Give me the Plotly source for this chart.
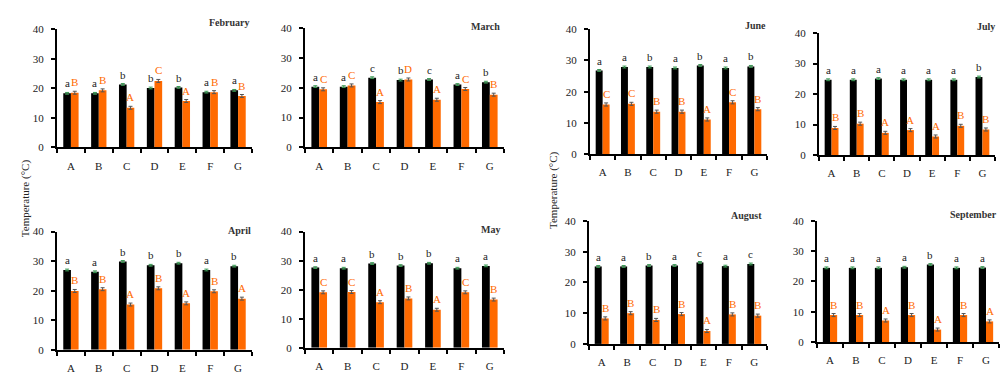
import plotly.graph_objects as go

categories = ["A", "B", "C", "D", "E", "F", "G"]
months = ["February", "March", "April", "May", "June", "July", "August", "September"]

feb_black = [18.3, 18.3, 21.3, 20.1, 20.3, 18.7, 19.3]
feb_orange = [18.5, 19.3, 13.4, 22.5, 15.7, 18.7, 17.4]
feb_black_letters = ["a", "a", "b", "b", "b", "a", "a"]
feb_orange_letters = ["B", "B", "A", "C", "A", "B", "B"]

mar_black = [20.4, 20.4, 23.4, 22.6, 22.8, 21.1, 21.9]
mar_orange = [19.5, 20.8, 15.2, 22.8, 16.0, 19.6, 17.7]
mar_black_letters = ["a", "a", "c", "b", "c", "a", "b"]
mar_orange_letters = ["C", "C", "A", "D", "A", "C", "B"]

apr_black = [27.0, 26.4, 29.9, 28.6, 29.3, 27.0, 28.3]
apr_orange = [19.9, 20.5, 15.3, 20.8, 15.7, 19.8, 17.3]
apr_black_letters = ["a", "a", "b", "b", "b", "a", "b"]
apr_orange_letters = ["B", "B", "A", "B", "A", "B", "A"]

may_black = [27.6, 27.4, 29.0, 28.3, 29.1, 27.4, 28.2]
may_orange = [19.1, 19.2, 15.7, 17.0, 13.1, 19.1, 16.6]
may_black_letters = ["a", "a", "b", "b", "b", "a", "a"]
may_orange_letters = ["C", "C", "A", "B", "A", "C", "B"]

jun_black = [26.8, 27.9, 27.9, 27.6, 28.4, 27.6, 28.1]
jun_orange = [15.9, 16.1, 13.6, 13.6, 11.1, 16.6, 14.4]
jun_black_letters = ["a", "a", "b", "a", "b", "a", "b"]
jun_orange_letters = ["C", "C", "B", "B", "A", "C", "B"]

jul_black = [24.7, 24.7, 25.1, 24.7, 24.7, 24.7, 25.6]
jul_orange = [8.9, 10.3, 7.3, 8.2, 6.1, 9.6, 8.4]
jul_black_letters = ["a", "a", "a", "a", "a", "a", "b"]
jul_orange_letters = ["B", "B", "A", "A", "A", "B", "B"]

aug_black = [25.2, 25.2, 25.5, 25.5, 26.5, 25.3, 26.0]
aug_orange = [8.3, 10.0, 7.8, 9.7, 4.2, 9.6, 9.2]
aug_black_letters = ["a", "a", "b", "a", "c", "a", "c"]
aug_orange_letters = ["B", "B", "B", "B", "A", "B", "B"]

sep_black = [24.5, 24.5, 24.5, 24.7, 25.6, 24.5, 24.6]
sep_orange = [8.9, 8.9, 7.1, 8.9, 4.1, 8.9, 6.8]
sep_black_letters = ["a", "a", "a", "a", "b", "a", "a"]
sep_orange_letters = ["B", "B", "A", "B", "A", "B", "A"]

black_err = [0.3, 0.3, 0.3, 0.3, 0.3, 0.3, 0.3]
orange_err = [0.5, 0.5, 0.5, 0.5, 0.5, 0.5, 0.5]

y_ticks = [0, 10, 20, 30, 40]
y_title = "Temperature (°C)"

panels = [
    (feb_black, feb_orange, feb_black_letters, feb_orange_letters),
    (mar_black, mar_orange, mar_black_letters, mar_orange_letters),
    (apr_black, apr_orange, apr_black_letters, apr_orange_letters),
    (may_black, may_orange, may_black_letters, may_orange_letters),
    (jun_black, jun_orange, jun_black_letters, jun_orange_letters),
    (jul_black, jul_orange, jul_black_letters, jul_orange_letters),
    (aug_black, aug_orange, aug_black_letters, aug_orange_letters),
    (sep_black, sep_orange, sep_black_letters, sep_orange_letters),
]

W, H = 1000, 378
# layout: panel boxes in pixels (left, right, top(y=40), bottom(y=0))
boxes = [
    (57, 252, 24, 146), (305, 504, 23, 146), (57, 252, 233, 355), (305, 504, 233, 353),
    (590, 767, 24, 153), (819, 995, 28, 154), (589, 767, 222, 349), (817, 999, 222, 347),
]
# month title positions in pixels (right edge, vertical centre)
title_pos = [
    (252, 17.5), (502, 20.7), (253, 232), (502, 231),
    (768, 20), (997, 20.7), (764, 216.7), (999, 215),
]

FONT = "Liberation Serif"
ORANGE = "#FF6A00"
BARGAP = 0.45
half = (1 - BARGAP) / 4

fig = go.Figure()
annotations = []

for i, (blk, org, bl, ol) in enumerate(panels):
    n = "" if i == 0 else str(i + 1)
    xa, ya = "x" + n, "y" + n
    left, right, top, bottom = boxes[i]
    fig.add_trace(go.Bar(
        x=categories, y=blk, xaxis=xa, yaxis=ya, marker_color="black",
        marker_line_width=0, showlegend=False,
        error_y=dict(type="data", array=black_err, color="#3b9a55", thickness=1, width=2),
    ))
    fig.add_trace(go.Bar(
        x=categories, y=org, xaxis=xa, yaxis=ya, marker_color=ORANGE,
        marker_line_width=0, showlegend=False,
        error_y=dict(type="data", array=orange_err, color="#555555", thickness=1, width=2),
    ))
    for k in range(len(categories)):
        annotations.append(dict(
            x=k - half, y=blk[k] + black_err[k], xref=xa, yref=ya, text=bl[k],
            showarrow=False, yanchor="bottom", yshift=1,
            font=dict(family=FONT, size=11, color="#222222"),
        ))
        annotations.append(dict(
            x=k + half, y=org[k] + orange_err[k], xref=xa, yref=ya, text=ol[k],
            showarrow=False, yanchor="bottom", yshift=1,
            font=dict(family=FONT, size=11, color=ORANGE),
        ))
    tx, ty = title_pos[i]
    annotations.append(dict(
        x=tx / W, y=1 - ty / H, xref="paper", yref="paper",
        text="<b>" + months[i] + "</b>", showarrow=False,
        xanchor="right", yanchor="middle",
        font=dict(family=FONT, size=10, color="#333333"),
    ))
    fig.layout["xaxis" + n] = dict(
        domain=[left / W, right / W], anchor=ya, type="category", categoryorder="array",
        categoryarray=categories, range=[-0.5, 6.5], showline=True, linecolor="black",
        linewidth=2, ticks="outside", tickson="boundaries", ticklen=4, tickwidth=1.5,
        tickcolor="black", ticklabelstandoff=7, showgrid=False, zeroline=False,
        tickfont=dict(family=FONT, size=11, color="#222222"), fixedrange=True,
    )
    fig.layout["yaxis" + n] = dict(
        domain=[1 - bottom / H, 1 - top / H], anchor=xa, range=[0, 40], tickvals=y_ticks,
        showline=True, linecolor="black", linewidth=2, ticks="outside", ticklen=4,
        tickwidth=1.5, tickcolor="black", ticklabelstandoff=5, showgrid=False,
        zeroline=False, tickfont=dict(family=FONT, size=11, color="#222222"),
        fixedrange=True,
    )

annotations.append(dict(
    x=17 / W, y=1 - 199 / H, xref="paper", yref="paper", text=y_title, textangle=-90,
    showarrow=False, font=dict(family=FONT, size=11, color="#222222"),
))
annotations.append(dict(
    x=554 / W, y=1 - 190 / H, xref="paper", yref="paper", text=y_title, textangle=-90,
    showarrow=False, font=dict(family=FONT, size=11, color="#222222"),
))

fig.update_layout(
    width=W, height=H, margin=dict(l=0, r=0, t=0, b=0),
    barmode="group", bargap=BARGAP, bargroupgap=0,
    plot_bgcolor="white", paper_bgcolor="white",
    annotations=annotations, showlegend=False,
)

fig.write_html(
    "out.html", config={"displayModeBar": False},
    post_script="document.body.style.margin='0';document.body.style.overflow='hidden';",
)
